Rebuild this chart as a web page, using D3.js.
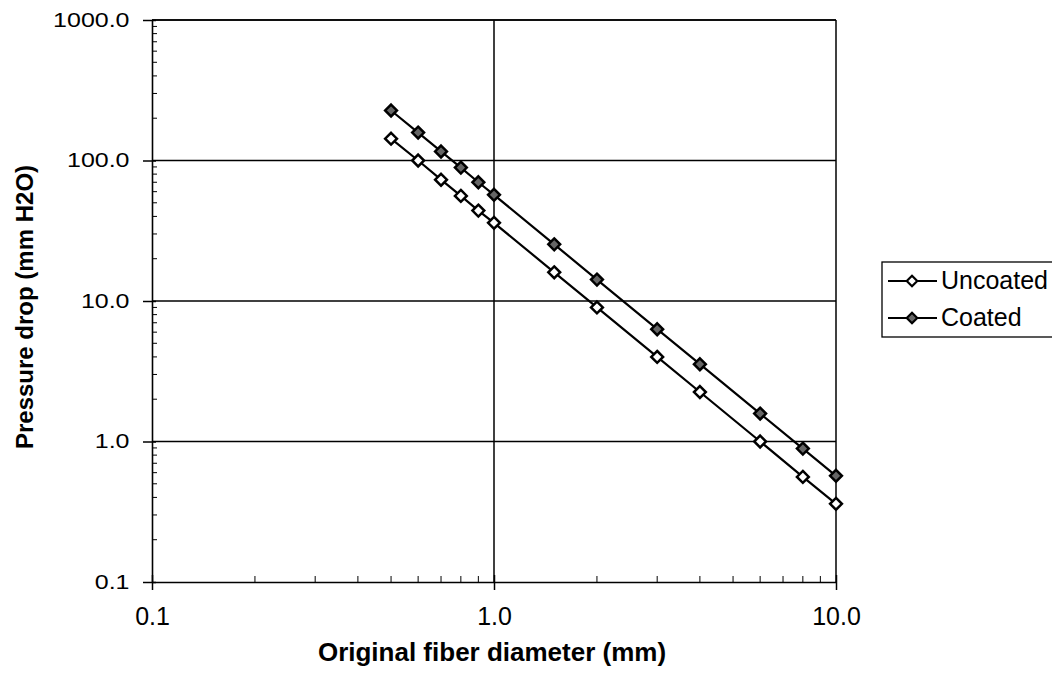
<!DOCTYPE html>
<html><head><meta charset="utf-8">
<script src="https://cdn.jsdelivr.net/npm/d3@7"></script>
<style>body{margin:0;background:#fff}svg{display:block}</style>
</head><body>
<svg id="c" width="1052" height="677"></svg>
<script>
const diameters = [0.5, 0.6, 0.7, 0.8, 0.9, 1.0, 1.5, 2, 3, 4, 6, 8, 10];
const uncoated = [143, 100, 73, 56, 44, 36, 16, 9.0, 4.0, 2.25, 1.0, 0.56, 0.36];
const coated = [227, 158, 116, 89, 70, 57, 25.3, 14.2, 6.3, 3.55, 1.58, 0.89, 0.57];
const xTicks = [0.1, 1, 10];
const yTicks = [0.1, 1, 10, 100, 1000];
const seriesNames = ["Uncoated", "Coated"];

const svg = d3.select("#c");
const L = 152, R = 836, T = 20, B = 582;
const x = d3.scaleLog().domain([0.1, 10]).range([L, R]);
const y = d3.scaleLog().domain([0.1, 1000]).range([B, T]);
const font = "Arial, 'Liberation Sans', sans-serif";

// gridlines
const g = svg.append("g");
g.selectAll(".gx").data(xTicks.slice(1)).join("line")
  .attr("x1", d => x(d)).attr("x2", d => x(d)).attr("y1", T).attr("y2", B)
  .attr("stroke", "#000").attr("stroke-width", 1.5);
g.selectAll(".gy").data(yTicks.slice(1)).join("line")
  .attr("x1", L).attr("x2", R).attr("y1", d => y(d)).attr("y2", d => y(d))
  .attr("stroke", "#000").attr("stroke-width", 1.5);

// minor ticks
const minorX = [];
[0.1, 1].forEach(b => { for (let k = 2; k <= 9; k++) minorX.push(b * k); });
const minorY = [];
[0.1, 1, 10, 100].forEach(b => { for (let k = 2; k <= 9; k++) minorY.push(b * k); });

// axes
const xAxis = d3.axisBottom(x).tickValues(xTicks).tickFormat(d3.format(".1f")).tickSize(8).tickSizeOuter(0).tickPadding(17);
const ax = svg.append("g").attr("transform", `translate(0,${B})`).call(xAxis);
ax.select(".domain").attr("stroke", "#000").attr("stroke-width", 1.6);
ax.selectAll(".tick line").attr("y1", -7).attr("y2", 8).attr("stroke-width", 1.5);
ax.selectAll("text").attr("font-family", font).attr("font-size", 25).attr("fill", "#000");
svg.append("g").selectAll("line").data(minorX).join("line")
  .attr("x1", d => x(d)).attr("x2", d => x(d)).attr("y1", B).attr("y2", B - 6)
  .attr("stroke", "#000").attr("stroke-width", 1);

const yAxis = d3.axisLeft(y).tickValues(yTicks).tickFormat(d3.format(".1f")).tickSize(9).tickSizeOuter(0).tickPadding(9);
const ay = svg.append("g").attr("transform", `translate(${L},0)`).call(yAxis);
ay.select(".domain").attr("stroke", "#000").attr("stroke-width", 1.6);
ay.selectAll(".tick line").attr("x1", -9).attr("x2", 4).attr("stroke-width", 1.5);
ay.selectAll("text").attr("font-family", font).attr("font-size", 20).attr("fill", "#000")
  .attr("transform", "scale(1.25,1)");
svg.append("g").selectAll("line").data(minorY).join("line")
  .attr("x1", L).attr("x2", L + 5).attr("y1", d => y(d)).attr("y2", d => y(d))
  .attr("stroke", "#000").attr("stroke-width", 1);

// top border
svg.append("line").attr("x1", L).attr("x2", R).attr("y1", T).attr("y2", T).attr("stroke", "#000").attr("stroke-width", 1.5);

// axis titles
svg.append("text").attr("x", 492).attr("y", 661).attr("text-anchor", "middle")
  .attr("font-family", font).attr("font-size", 26).attr("font-weight", "bold").text("Original fiber diameter (mm)");
svg.append("text").attr("transform", `translate(33,307) rotate(-90)`).attr("text-anchor", "middle")
  .attr("font-family", font).attr("font-size", 24).attr("font-weight", "bold").text("Pressure drop (mm H2O)");

// series
const line = d3.line().x(d => x(d[0])).y(d => y(d[1]));
const series = [
  { name: seriesNames[0], vals: uncoated, fill: "#fff" },
  { name: seriesNames[1], vals: coated, fill: "#666" }
];
const diamond = { draw(ctx, size) { const r = Math.sqrt(size) / 2; ctx.moveTo(0, -r); ctx.lineTo(r, 0); ctx.lineTo(0, r); ctx.lineTo(-r, 0); ctx.closePath(); } };
const sym = d3.symbol().type(diamond).size(140);
series.forEach(s => {
  const pts = diameters.map((d, i) => [d, s.vals[i]]);
  svg.append("path").attr("d", line(pts)).attr("fill", "none").attr("stroke", "#000").attr("stroke-width", 2.2);
  svg.append("g").selectAll("path").data(pts).join("path")
    .attr("d", sym).attr("transform", d => `translate(${x(d[0])},${y(d[1])})`)
    .attr("fill", s.fill).attr("stroke", "#000").attr("stroke-width", 2.5);
});

// legend
const lg = svg.append("g");
lg.append("rect").attr("x", 882).attr("y", 262).attr("width", 178).attr("height", 75)
  .attr("fill", "#fff").attr("stroke", "#000").attr("stroke-width", 1.3);
series.forEach((s, i) => {
  const yy = 281 + i * 37;
  lg.append("line").attr("x1", 888).attr("x2", 937).attr("y1", yy).attr("y2", yy).attr("stroke", "#000").attr("stroke-width", 2);
  lg.append("path").attr("d", d3.symbol().type(diamond).size(110)).attr("transform", `translate(912,${yy})`).attr("fill", s.fill).attr("stroke", "#000").attr("stroke-width", 2.2);
  lg.append("text").attr("x", 941).attr("y", yy + 8).attr("font-family", font).attr("font-size", 25).text(s.name);
});
</script>
</body></html>
